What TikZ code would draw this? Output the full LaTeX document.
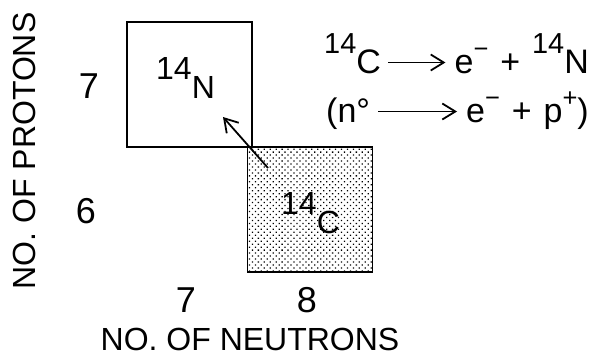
\documentclass[tikz,border=0pt]{standalone}
\usepackage{fontspec}
\setmainfont{Liberation Sans}
\usetikzlibrary{arrows.meta,patterns.meta}
\newcommand\iso[3][.85]{\raisebox{.58em}{\scalebox{#1}{#2}}#3}
\newcommand\up[1]{\raisebox{.45em}{\scalebox{.75}{#1}}}
\begin{document}
\begin{tikzpicture}[x=1pt,y=-1pt,
box/.style={draw,line width=1.6pt,minimum size=125pt,inner sep=0pt},
lbl/.style={inner sep=0pt,anchor=base,font=\fontsize{32}{32}\selectfont},
num/.style={inner sep=0pt,anchor=base,font=\fontsize{36}{36}\selectfont},
nuc/.style={inner sep=0pt,anchor=base west,font=\fontsize{32}{32}\selectfont},
eq/.style={inner sep=0pt,text height=21pt,text depth=0pt,font=\fontsize{34}{34}\selectfont},
arrow/.style={-{Straight Barb[length=13pt,width=16pt]},line width=1.8pt}
]
\useasboundingbox (0,0) rectangle (592,360);
\node[box] (nbox) at (189.5,84.5) {};
\node[box,pattern={Dots[distance=4.2pt,radius=.9pt,angle=45]}] (cbox) at (310,209.5) {};
\node[nuc] (n14) at (156,98) {\iso[1]{14}N};
\node[nuc] (c14box) at (281,233) {\iso[1]{14}C};
\coordinate (tail) at (268,168);
\coordinate (tip) at (223,117);
\draw[arrow] (tail) -- (tip);

\node[num] (p7) at (89,98) {7};
\node[num] (p6) at (86,223) {6};
\node[num] (n7) at (186,312) {7};
\node[num] (n8) at (307,312) {8};
\node[lbl] (nlab) at (250,350) {NO. OF NEUTRONS};
\node[lbl,rotate=90] (plab) at (35,151) {NO. OF PROTONS};

\node[eq,anchor=base west] (c14) at (324,73) {\iso{14}C};
\node[eq,anchor=base east] (rhs1) at (589,73) {e\up{−}\hspace{.35em}+\hspace{.35em}\iso{14}N};
\draw[arrow,shorten <=7pt,shorten >=9pt] (c14) -- (rhs1);
\node[eq,anchor=base west] (n0) at (326,122) {(n°};
\node[eq,anchor=base east] (rhs2) at (589,122) {e\up{−}\hspace{.35em}+\hspace{.35em}p\up{+})};
\draw[arrow,shorten <=8pt,shorten >=9pt] (n0) -- (rhs2);
\end{tikzpicture}
\end{document}
